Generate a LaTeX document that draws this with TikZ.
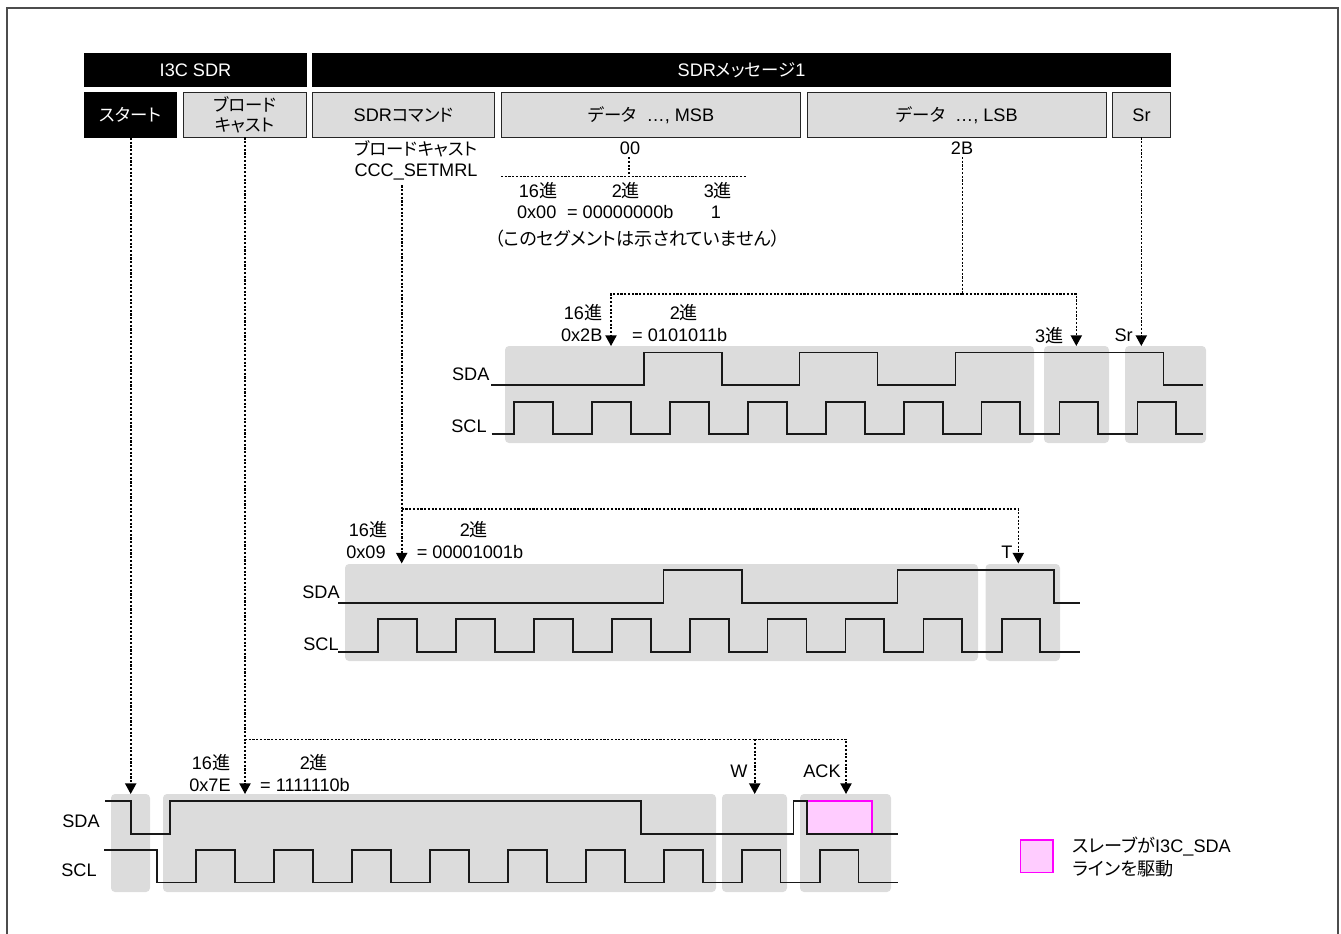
\documentclass[tikz,border=0pt]{standalone}
\usepackage{fontspec}
\setmainfont{Liberation Sans}
\newfontfamily\cjk[RawFeature=+palt]{Noto Sans CJK JP}
\newfontfamily\cjkk[RawFeature=+palt,Scale=0.96]{Noto Sans CJK JP}
\newcommand{\J}[1]{{\cjk #1}}
\newcommand{\K}[1]{{\cjkk #1}}
\usetikzlibrary{arrows.meta}
\definecolor{barbg}{HTML}{DCDCDC}
\definecolor{pinkfill}{HTML}{FFCCFF}
\definecolor{pinkline}{HTML}{FF00FF}
\tikzset{
  x=0.75pt,y=-0.75pt,
  every node/.style={font=\fontsize{13.6}{15}\selectfont,inner sep=0pt,outer sep=0pt},
  headbar/.style={fill=black,text=white,draw=none,rectangle},
  greybox/.style={fill=barbg,draw=black!85,line width=1.2pt,rectangle},
  blackbox/.style={fill=black,text=white,rectangle},
  seg/.style={fill=barbg,rounded corners=3pt,draw=none},
  wave/.style={line width=1.2pt,draw=black!90,line join=miter},
  dotline/.style={line width=1.2pt,dash pattern=on 1.6pt off 1.2pt},
  dotarrow/.style={dotline,-{Triangle[length=8pt,width=8.4pt,sep=0pt]}},
  lab/.style={align=center,anchor=center},
}
\newcommand{\bx}[6]{\node[#1,minimum width=#4*0.75pt,minimum height=#5*0.75pt,anchor=north west,align=center] (#2) at #3 {#6};}
\begin{document}
\begin{tikzpicture}
\useasboundingbox (0,0) rectangle (1341,934);
\draw[line width=1.1pt,draw=black!70] (7,934) -- (7,8) -- (1338,8) -- (1338,934);

% header
\bx{headbar}{hA}{(84,53)}{223}{34}{I3C SDR}
\bx{headbar}{hB}{(312,53)}{859}{34}{SDR\K{メッセージ}1}
\bx{blackbox}{bStart}{(84,92)}{93}{46}{\K{スタート}}
\bx{greybox}{bBroad}{(183.5,92.5)}{123}{45}{\K{ブロード}\\\K{キャスト}}
\bx{greybox}{bCmd}{(312.5,92.5)}{182}{45}{SDR\K{コマンド}}
\bx{greybox}{bMsb}{(501.5,92.5)}{299}{45}{\K{データ}\ \ …, MSB}
\bx{greybox}{bLsb}{(807.5,92.5)}{299}{45}{\K{データ}\ \ …, LSB}
\bx{greybox}{bSr}{(1112.5,92.5)}{58}{45}{Sr}

% grey segments
\fill[seg] (505,346) rectangle (1034,443);
\fill[seg] (1044,346) rectangle (1109,443);
\fill[seg] (1125,346) rectangle (1206,443);
\fill[seg] (345,564) rectangle (978,661);
\fill[seg] (985.5,564) rectangle (1060,661);
\fill[seg] (111,794) rectangle (150,892);
\fill[seg] (163,794) rectangle (716,892);
\fill[seg] (722,794) rectangle (787,892);
\fill[seg] (800,794) rectangle (891,892);

% legend
\node[draw=pinkline,fill=pinkfill,line width=1.1pt,rectangle,minimum width=32.5*0.75pt,minimum height=32.5*0.75pt,anchor=north west] (legend) at (1020.7,840) {};
\node[anchor=west,align=left,font=\fontsize{13.6}{17.2}\selectfont] (legendtext) at (1072.5,857) {\J{スレーブが}I3C\_SDA\\\J{ラインを駆動}};

% pink drive box
\path[fill=pinkfill,draw=pinkline,line width=1.1pt] (806.7,801) rectangle (872,833.7);

% waveforms, top block
\draw[wave] (491,385) -| (643.7,352.3) -| (721.7,385) -| (799.3,352.3) -| (877.3,385) -| (955.3,352.3) -| (1163.3,385) -- (1203,385);
\draw[wave] (491.7,434) -| (514,401.7) -| (553,434) -| (592,401.7) -| (631,434) -| (670,401.7) -| (709,434) -| (748,401.7) -| (787,434) -| (826,401.7) -| (865,434) -| (904,401.7) -| (943,434) -| (981.5,401.7) -| (1020,434) -| (1059.3,401.7) -| (1098,434) -| (1137.3,401.7) -| (1176,434) -- (1203,434);

% waveforms, middle block
\draw[wave] (338,602.7) -| (663.3,570) -| (741.7,602.7) -| (897.3,570) -| (1053.7,602.7) -- (1079.5,602.7);
\draw[wave] (338.3,651.7) -| (378,618.7) -| (417,651.7) -| (456,618.7) -| (495,651.7) -| (534,618.7) -| (573,651.7) -| (612,618.7) -| (651,651.7) -| (690,618.7) -| (729,651.7) -| (767.5,618.7) -| (806.5,651.7) -| (845.3,618.7) -| (884,651.7) -| (923.3,618.7) -| (962,651.7) -| (1001.7,618.7) -| (1040,651.7) -- (1080,651.7);

% waveforms, bottom block
\draw[wave] (105.3,801) -| (130.7,833.7) -| (169.7,801) -| (641,833.7) -| (793.3,801) -| (806.7,833.7) -- (897.7,833.7);
\draw[wave] (104.3,849.7) -| (156.7,882.3) -| (196,849.7) -| (235,882.3) -| (274,849.7) -| (313,882.3) -| (352,849.7) -| (391,882.3) -| (430,849.7) -| (469,882.3) -| (508,849.7) -| (547,882.3) -| (586,849.7) -| (625,882.3) -| (663.7,849.7) -| (702.7,882.3) -| (741.7,849.7) -| (780.3,882.3) -| (819.7,849.7) -| (858.3,882.3) -- (898,882.3);

% text labels
\node[lab] (tBc) at (416,149) {\K{ブロードキャスト}};
\node[lab] (tCcc) at (416,172) {CCC\_SETMRL};
\node[lab] (t00) at (630,148) {00};
\node[lab] (t2B) at (962,148) {2B};
\node[lab] (h16a) at (538,191) {16\J{進}};
\node[lab] (h2a) at (626,191) {2\J{進}};
\node[lab] (h3a) at (718,191) {3\J{進}};
\node[lab] (v16a) at (536.7,212) {0x00};
\node[lab] (v2a) at (620.3,212) {= 00000000b};
\node[lab] (v3a) at (716,212) {1};
\node[lab] (note) at (637.3,239) {\J{（このセグメントは示されていません）}};

\node[lab] (h16b) at (583,313) {16\J{進}};
\node[lab] (v16b) at (581.7,335) {0x2B};
\node[lab] (h2b) at (684,313) {2\J{進}};
\node[lab] (v2b) at (679.7,335) {= 0101011b};
\node[lab] (h3b) at (1049.3,336) {3\J{進}};
\node[lab] (srb) at (1123.7,335) {Sr};
\node[lab] (sdaB) at (470.7,374) {SDA};
\node[lab] (sclB) at (469,426) {SCL};

\node[lab] (h16c) at (368,530) {16\J{進}};
\node[lab] (v16c) at (366,552) {0x09};
\node[lab] (h2c) at (474,530) {2\J{進}};
\node[lab] (v2c) at (470,552) {= 00001001b};
\node[lab] (tT) at (1007,552) {T};
\node[lab] (sdaC) at (321,592) {SDA};
\node[lab] (sclC) at (321,644) {SCL};

\node[lab] (h16d) at (211,763) {16\J{進}};
\node[lab] (v16d) at (210,785) {0x7E};
\node[lab] (h2d) at (314,763) {2\J{進}};
\node[lab] (v2d) at (305,785) {= 1111110b};
\node[lab] (tW) at (739,771) {W};
\node[lab] (tAck) at (822,771) {ACK};
\node[lab] (sdaD) at (81,821) {SDA};
\node[lab] (sclD) at (79,870) {SCL};

% coordinates
\coordinate (aStart) at (130.7,794);
\coordinate (aBroad) at (245,794);
\coordinate (aW) at (754.7,794);
\coordinate (aAck) at (846,794);
\coordinate (aCmd) at (401.7,563.5);
\coordinate (aT) at (1018.3,563.5);
\coordinate (aData) at (611,346);
\coordinate (a3) at (1076.3,346);
\coordinate (aSr) at (1141.3,346);
\coordinate (jBroad) at (245,739.3);
\coordinate (jW) at (754.7,739.3);
\coordinate (jCmd) at (401.7,509);
\coordinate (jData) at (962.3,294);
\coordinate (j00) at (629,176.7);
\coordinate (l00) at (501,176.7);
\coordinate (r00) at (746,176.7);

% connectors
\draw[dotarrow] (bStart.south -| aStart) -- (aStart);
\draw[dotarrow] (bBroad.south -| aBroad) -- (aBroad);
\draw[dotline] (jBroad) -- (jW);
\draw[dotarrow] (jW) -- (aW);
\draw[dotarrow] (jW) -| (aAck);
\draw[dotarrow,shorten <=4pt] (tCcc.south -| aCmd) -- (aCmd);
\draw[dotarrow] (jCmd) -| (aT);
\draw[dotline,shorten <=2pt] (t2B.south -| jData) -- (jData);
\draw[dotarrow] (jData) -| (aData);
\draw[dotarrow] (jData) -| (a3);
\draw[dotarrow] (bSr.south -| aSr) -- (aSr);
\draw[dotline,shorten <=2pt] (t00.south -| j00) -- (j00);
\draw[dotline] (l00) -- (r00);
\end{tikzpicture}
\end{document}
